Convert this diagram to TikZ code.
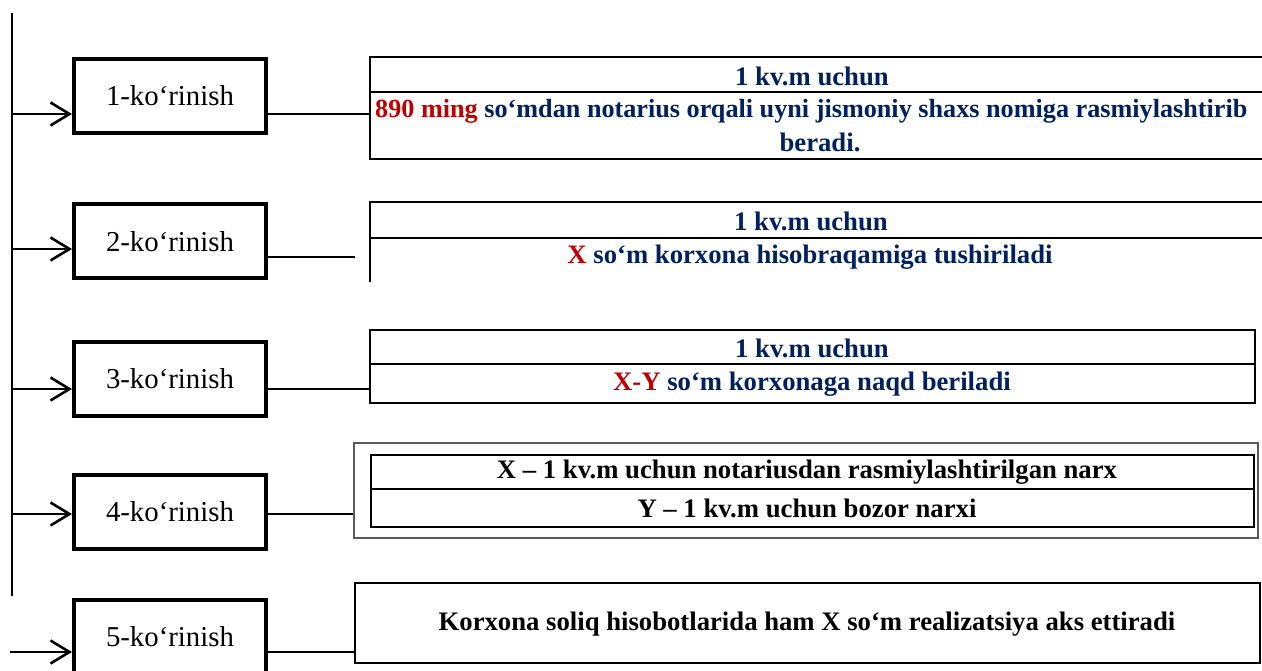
\documentclass[tikz,border=0pt]{standalone}
\usepackage{fontspec}
\setmainfont{Liberation Serif}
\usetikzlibrary{arrows.meta}
\definecolor{navy}{HTML}{002060}
\definecolor{dred}{HTML}{C00000}
\tikzset{
  kbox/.style={draw, line width=4pt, minimum width=192pt, minimum height=74pt, inner sep=0pt, font=\fontsize{28.8}{32}\selectfont},
  rbox/.style={draw, line width=2pt, inner sep=0pt},
  obox/.style={draw=gray!70!black, line width=1.6pt, inner sep=0pt},
  arr/.style={line width=2pt, -{Straight Barb[length=19pt,width=23pt,line width=2.6pt]}},
  conn/.style={line width=2pt},
  rline/.style={line width=2.2pt},
  rtxt/.style={font=\fontsize{26.7}{30}\selectfont\bfseries, text=navy, inner sep=0pt},
  btxt/.style={font=\fontsize{26.7}{30}\selectfont\bfseries, text=black, inner sep=0pt}
}
\begin{document}
\begin{tikzpicture}[x=1pt,y=-1pt]
\useasboundingbox (0,0) rectangle (1262,671);
\clip (0,0) rectangle (1262,671);
% trunk
\coordinate (t0) at (12,13);
\coordinate (t1) at (12,596);
\draw[conn] (t0) -- (t1);
% left boxes
\node[kbox] (k1) at (170,96) {1-ko‘rinish};
\node[kbox] (k2) at (170,241.5) {2-ko‘rinish};
\node[kbox] (k3) at (170,378.5) {3-ko‘rinish};
\node[kbox] (k4) at (170,511.5) {4-ko‘rinish};
\node[kbox] (k5) at (170,637) {5-ko‘rinish};
% arrow starts
\coordinate (a1) at (12,114);
\coordinate (a2) at (12,249);
\coordinate (a3) at (12,389);
\coordinate (a4) at (12,514);
\coordinate (a5) at (10,652);
\draw[arr] (a1) -- (a1 -| k1.west);
\draw[arr] (a2) -- (a2 -| k2.west);
\draw[arr] (a3) -- (a3 -| k3.west);
\draw[arr] (a4) -- (a4 -| k4.west);
\draw[arr] (a5) -- (a5 -| k5.west);
% right box 1 (open on the right)
\draw[rline] (1270,57) -- (370,57) -- (370,159) -- (1270,159);
\draw[rline] (370,92) -- (1270,92);
\coordinate (r1) at (370,114);
\node[rtxt] (r1a) at (812,76) {1 kv.m uchun};
\node[rtxt, anchor=west, font=\fontsize{26.2}{30}\selectfont\bfseries] (r1b) at (375,111) {\textcolor{dred}{890 ming} so‘mdan notarius orqali uyni jismoniy shaxs nomiga rasmiylashtirib};
\node[rtxt] (r1c) at (820,142) {beradi.};
% right box 2 (open)
\draw[rline] (1270,202) -- (370,202) -- (370,282);
\draw[rline] (370,238) -- (1270,238);
\coordinate (r2) at (355,257);
\node[rtxt] (r2a) at (811,221) {1 kv.m uchun};
\node[rtxt] (r2b) at (810,257) {\textcolor{dred}{X} so‘m korxona hisobraqamiga tushiriladi};
% right box 3
\node[rbox, minimum width=885pt, minimum height=73pt] (r3) at (812.5,366.5) {};
\draw[rline] (r3.west |- 0,364) -- (r3.east |- 0,364);
\node[rtxt] (r3a) at (812,348) {1 kv.m uchun};
\node[rtxt] (r3b) at (812,384) {\textcolor{dred}{X-Y} so‘m korxonaga naqd beriladi};
% right box 4
\node[obox, minimum width=904pt, minimum height=95pt] (r4) at (806,490.5) {};
\node[rbox, minimum width=883pt, minimum height=72pt] (r4i) at (812.5,491) {};
\draw[rline] (r4i.west |- 0,489) -- (r4i.east |- 0,489);
\node[btxt] (r4a) at (807,472) {X – 1 kv.m uchun notariusdan rasmiylashtirilgan narx};
\node[btxt] (r4b) at (807,508) {Y – 1 kv.m uchun bozor narxi};
% right box 5
\node[rbox, minimum width=905pt, minimum height=80pt] (r5) at (807.5,623) {};
\node[btxt] (r5a) at (807,624) {Korxona soliq hisobotlarida ham X so‘m realizatsiya aks ettiradi};
% connectors
\draw[conn] (k1.east |- a1) -- (r1);
\draw[conn] (k2.east |- r2) -- (r2);
\draw[conn] (k3.east |- a3) -- (a3 -| r3.west);
\draw[conn] (k4.east |- a4) -- (a4 -| r4.west);
\draw[conn] (k5.east |- a5) -- (a5 -| r5.west);
\end{tikzpicture}
\end{document}
